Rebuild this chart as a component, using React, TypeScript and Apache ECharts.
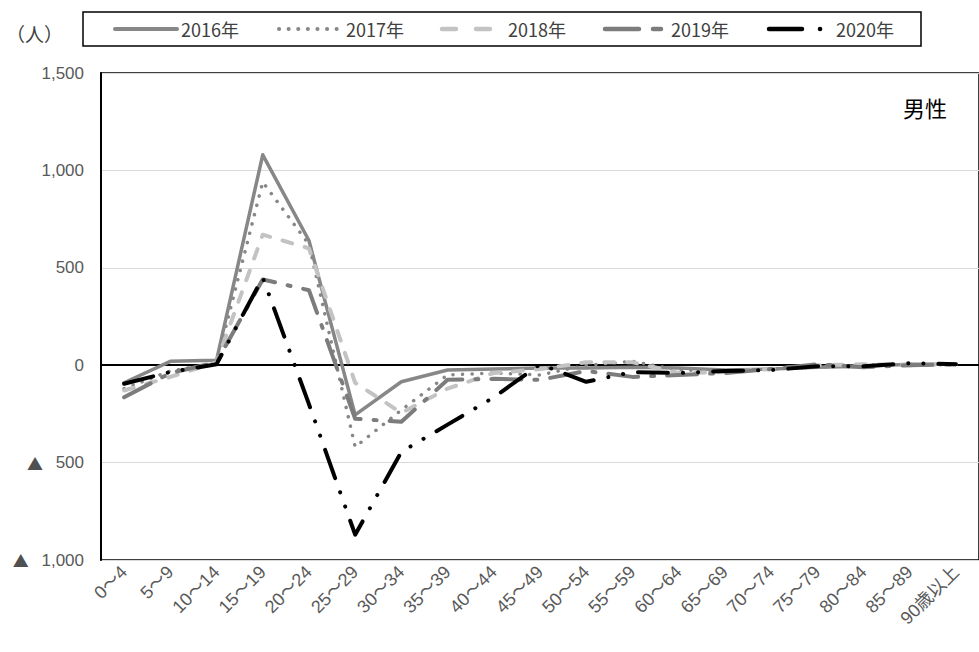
import React, { useEffect, useRef } from "react";
import * as echarts from "echarts";

// 年齢階級（5歳刻み）
const ageGroups = [
  "0～4", "5～9", "10～14", "15～19", "20～24", "25～29", "30～34", "35～39", "40～44",
  "45～49", "50～54", "55～59", "60～64", "65～69", "70～74", "75～79", "80～84", "85～89", "90歳以上",
];

// 年齢階級別 転入超過数（男性、人）
const y2016 = [-90, 20, 25, 1080, 640, -255, -85, -25, -20, -15, -15, -10, -15, -25, -20, -10, -5, 5, 5];
const y2017 = [-120, -30, 10, 940, 620, -420, -230, -50, -40, -50, 0, 20, -25, -30, -20, -10, 0, 5, 0];
const y2018 = [-130, -60, 15, 670, 600, -90, -245, -120, -40, -20, 15, 15, -40, -35, -20, 0, 5, 0, 5];
const y2019 = [-165, -40, 15, 440, 385, -275, -290, -75, -70, -75, -30, -60, -50, -40, -20, 5, -10, 0, 5];
const y2020 = [-95, -35, 5, 450, -200, -870, -445, -305, -165, 5, -85, -35, -40, -30, -25, -5, -5, 10, 5];

const yearNames = ["2016年", "2017年", "2018年", "2019年", "2020年"];

// 系列ごとの線種
const seriesStyles = [
  { color: "#878787", width: 3.5, dash: null as number[] | null },
  { color: "#878787", width: 3.5, dash: [0.1, 9.5] },
  { color: "#c3c3c3", width: 4, dash: [10, 13] },
  { color: "#7c7c7c", width: 4, dash: [30, 13, 3, 13] },
  { color: "#000000", width: 4, dash: [30, 15, 0.1, 15, 0.1, 15] },
];
const seriesData = [y2016, y2017, y2018, y2019, y2020];

// 負の値は「▲」付きで表示
const fmtAxis = (v: number) => {
  const s = Math.abs(v).toLocaleString("en-US");
  return v < 0 ? "{t|▲} " + s : s;
};

const labelFont = "'Liberation Sans', Arial, 'Noto Sans CJK JP', sans-serif";
const jpFont = "'Noto Sans CJK JP', sans-serif";

// 凡例（枠・線見本・文字）
const legendItems = [
  { x1: 115, x2: 177, dash: null as number[] | null, tx: 181 },
  { x1: 279, x2: 338, dash: [0.1, 9.5], tx: 346 },
  { x1: 442, x2: 492, dash: [14, 20], tx: 508 },
  { x1: 605, x2: 666, dash: [34, 14, 8, 14] as number[] | null, tx: 671 },
  { x1: 769, x2: 824, dash: [33, 18, 0.1, 40], tx: 836 },
];

export default function App() {
  const ref = useRef<HTMLDivElement>(null);

  useEffect(() => {
    if (!ref.current) return;
    const chart = echarts.init(ref.current, null, { renderer: "svg" });

    const series: any[] = seriesData.map((data, i) => {
      const st = seriesStyles[i];
      return {
        name: yearNames[i],
        type: "line",
        data,
        symbol: "none",
        showSymbol: false,
        lineStyle: {
          color: st.color,
          width: st.width,
          type: st.dash ?? "solid",
          cap: "round",
          join: "round",
        },
        itemStyle: { color: st.color },
        z: 3,
      };
    });
    // 0 の基準線
    series[0].markLine = {
      silent: true,
      symbol: "none",
      label: { show: false },
      lineStyle: { color: "#000000", width: 1.2, type: "solid" },
      data: [{ yAxis: 0 }],
      z: 2,
    };

    const legendGraphics: any[] = [
      {
        type: "rect",
        shape: { x: 83, y: 12, width: 838, height: 34 },
        style: { fill: "#ffffff", stroke: "#000000", lineWidth: 1.5 },
      },
    ];
    legendItems.forEach((it, i) => {
      const st = seriesStyles[i];
      legendGraphics.push({
        type: "line",
        shape: { x1: it.x1, y1: 29, x2: it.x2, y2: 29 },
        style: {
          stroke: st.color,
          lineWidth: st.width + 0.5,
          lineDash: it.dash ?? undefined,
          lineCap: "round",
        },
      });
      legendGraphics.push({
        type: "text",
        x: it.tx,
        y: 29,
        style: {
          text: yearNames[i],
          fontSize: 18,
          fill: "#404040",
          fontFamily: jpFont,
          verticalAlign: "middle",
          align: "left",
        },
      });
    });

    chart.setOption({
      animation: false,
      backgroundColor: "#ffffff",
      textStyle: { fontFamily: labelFont },
      grid: {
        left: 101,
        top: 73,
        width: 884,
        height: 487,
        show: true,
        borderColor: "#000000",
        borderWidth: 1.5,
        containLabel: false,
      },
      xAxis: {
        type: "category",
        data: ageGroups,
        boundaryGap: true,
        axisLine: { show: true, lineStyle: { color: "#000000", width: 2 } },
        axisTick: { show: false },
        axisLabel: {
          rotate: 45,
          interval: 0,
          margin: 9,
          color: "#595959",
          fontSize: 18,
          fontFamily: labelFont,
        },
      },
      yAxis: {
        type: "value",
        min: -1000,
        max: 1500,
        interval: 500,
        axisLine: { show: true, lineStyle: { color: "#000000", width: 2 } },
        axisTick: { show: false },
        splitLine: { show: true, lineStyle: { color: "#d9d9d9", width: 1.2 } },
        axisLabel: {
          formatter: fmtAxis,
          color: "#595959",
          fontSize: 17,
          margin: 17,
          fontFamily: labelFont,
          rich: {
            t: { fontFamily: jpFont, fontSize: 16, color: "#505050", padding: [0, 8, 0, 0] },
          },
        },
      },
      series,
      graphic: [
        ...legendGraphics,
        {
          type: "text",
          x: 6,
          y: 33,
          style: {
            text: "（人）",
            fontSize: 19,
            fill: "#404040",
            fontFamily: jpFont,
            verticalAlign: "middle",
          },
        },
        {
          type: "text",
          x: 903,
          y: 107,
          style: {
            text: "男性",
            fontSize: 22,
            fill: "#000000",
            fontFamily: jpFont,
            verticalAlign: "middle",
          },
        },
      ],
    });

    return () => chart.dispose();
  }, []);

  return (
    <div
      ref={ref}
      style={{ position: "fixed", left: 0, top: 0, width: 979, height: 652, background: "#fff" }}
    />
  );
}
